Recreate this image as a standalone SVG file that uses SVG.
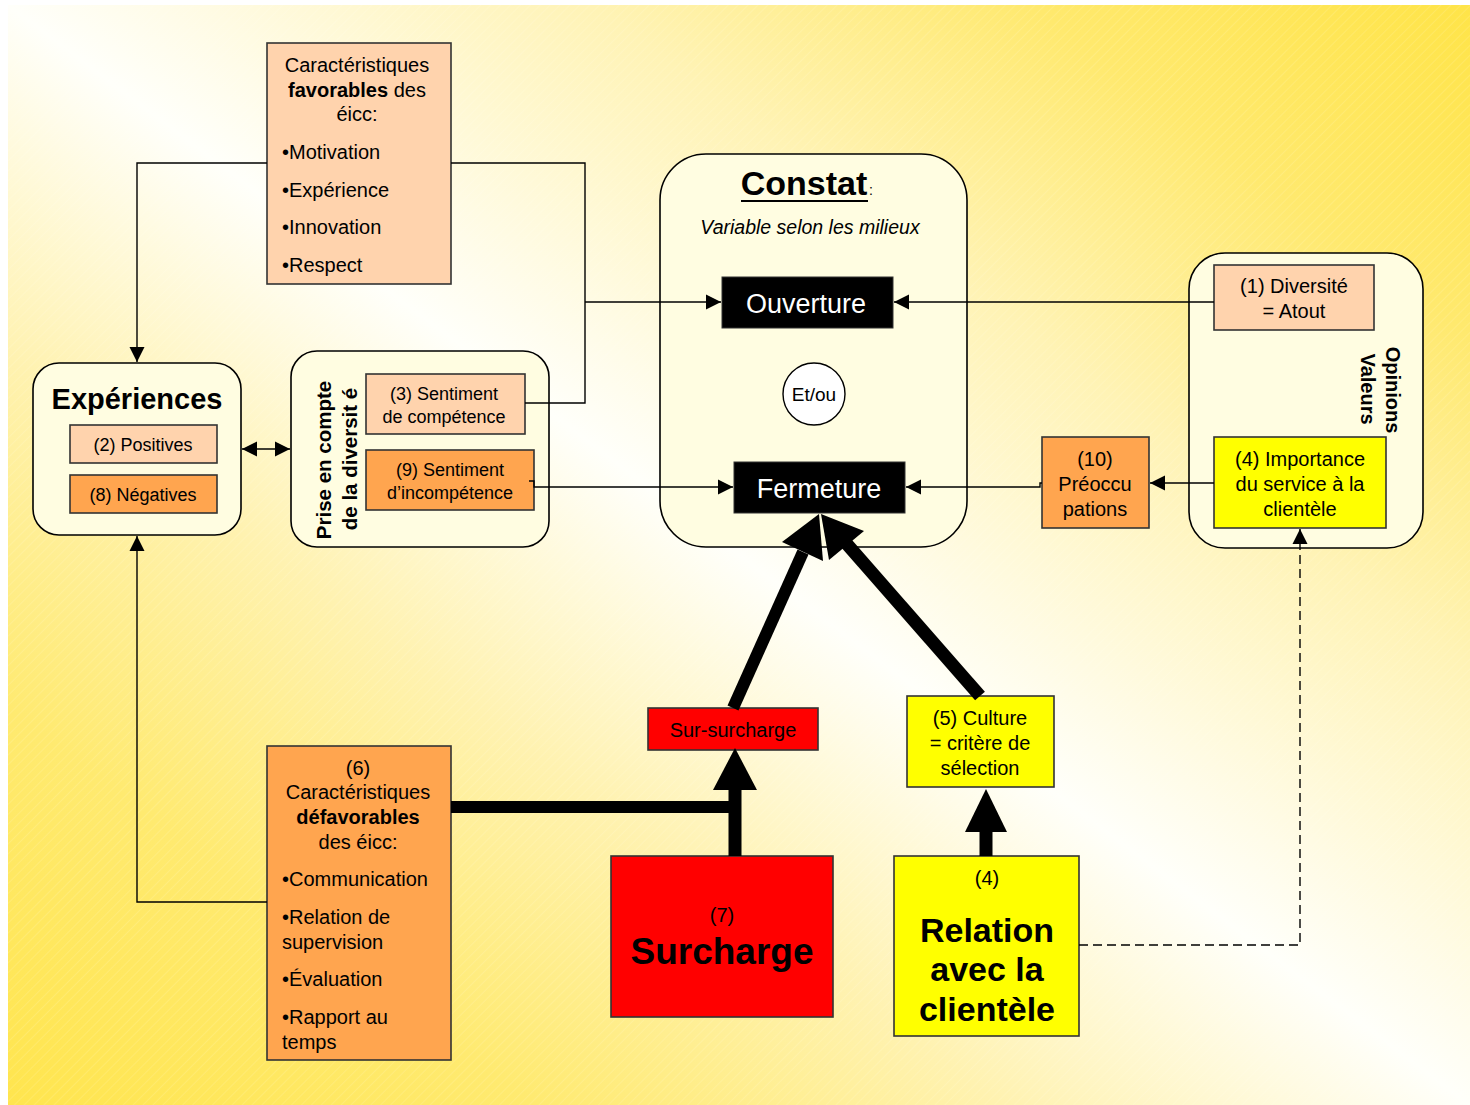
<svg xmlns="http://www.w3.org/2000/svg" width="1470" height="1105" viewBox="0 0 1470 1105">
<style>
text{font-family:"Liberation Sans",Arial,sans-serif;fill:#000;}
.t20{font-size:20px;}
.t18{font-size:18px;}
.c{text-anchor:middle;}
.b{font-weight:bold;}
.box{stroke:#333;stroke-width:1.6;}
.cont{fill:#FFFDE1;stroke:#000;stroke-width:1.6;}
.peach{fill:#FFD3AD;}
.orange{fill:#FFA54F;}
.yellow{fill:#FFFF00;}
.red{fill:#FF0000;}
.conn{fill:none;stroke:#000;stroke-width:1.4;}
.thick{fill:none;stroke:#000;}
.wt{fill:#fff;font-size:27px;text-anchor:middle;}
</style>
<defs>
<linearGradient id="bg" x1="1" y1="0" x2="0" y2="1">
<stop offset="0" stop-color="#FFE448"/>
<stop offset="0.15" stop-color="#FFE96E"/>
<stop offset="0.3" stop-color="#FFF3B5"/>
<stop offset="0.5" stop-color="#FFFFFA"/>
<stop offset="0.66" stop-color="#FFF2B0"/>
<stop offset="0.82" stop-color="#FFEA70"/>
<stop offset="1" stop-color="#FFE54E"/>
</linearGradient>
<pattern id="hatch" width="7" height="7" patternUnits="userSpaceOnUse" patternTransform="rotate(45)">
<line x1="0" y1="0" x2="0" y2="7" stroke="#fff" stroke-width="1" stroke-opacity="0.25"/>
</pattern>
<marker id="ah" viewBox="0 0 10 10" refX="10" refY="5" markerWidth="15" markerHeight="16" markerUnits="userSpaceOnUse" orient="auto-start-reverse">
<path d="M0,0 L10,5 L0,10 z" fill="#000"/>
</marker>
</defs>
<rect x="0" y="0" width="1470" height="1105" fill="#fff"/>
<rect x="8" y="5" width="1462" height="1100" fill="url(#bg)"/>
<rect x="8" y="5" width="1462" height="1100" fill="url(#hatch)"/>

<g id="favorables">
<rect class="box peach" x="267" y="43" width="184" height="241"/>
<text class="t20 c" x="357" y="72">Caractéristiques</text>
<text class="t20 c" x="357" y="97"><tspan class="b">favorables</tspan> des</text>
<text class="t20 c" x="357" y="121">éicc:</text>
<text class="t20" x="282" y="159">•Motivation</text>
<text class="t20" x="282" y="197">•Expérience</text>
<text class="t20" x="282" y="234">•Innovation</text>
<text class="t20" x="282" y="272">•Respect</text>
</g>

<g id="experiences">
<rect class="cont" x="33" y="363" width="208" height="172" rx="26"/>
<text class="c b" x="137" y="409" font-size="29">Expériences</text>
<rect class="box peach" x="70" y="425" width="147" height="38"/>
<text class="t18 c" x="143" y="451">(2) Positives</text>
<rect class="box orange" x="70" y="475" width="147" height="38"/>
<text class="t18 c" x="143" y="501">(8) Négatives</text>
</g>

<g id="prise">
<rect class="cont" x="291" y="351" width="258" height="196" rx="26"/>
<text class="b c" font-size="20.5" x="331" y="460" transform="rotate(-90 331 460)">Prise en compte</text>
<text class="b c" font-size="20.5" x="357" y="459" transform="rotate(-90 357 459)">de la diversit é</text>
<rect class="box peach" x="366" y="374" width="159" height="60"/>
<text class="t18 c" x="444" y="400">(3) Sentiment</text>
<text class="t18 c" x="444" y="423">de compétence</text>
<rect class="box orange" x="366" y="450" width="168" height="60"/>
<text class="t18 c" x="450" y="476">(9) Sentiment</text>
<text class="t18 c" x="450" y="499">d’incompétence</text>
</g>

<g id="constat">
<rect class="cont" x="660" y="154" width="307" height="393" rx="46"/>
<text class="b c" x="804" y="195" font-size="34">Constat</text>
<line x1="741" y1="201" x2="868" y2="201" stroke="#000" stroke-width="2"/>
<text x="869" y="195" font-size="14">:</text>
<text class="c" x="810" y="234" font-size="19.5" font-style="italic">Variable selon les milieux</text>
</g>

<g id="ouverture">
<rect x="722" y="277" width="171" height="51" fill="#000" stroke="#333" stroke-width="1"/>
<text class="wt" x="806" y="313">Ouverture</text>
</g>

<g id="etou">
<circle cx="814" cy="394" r="31" fill="#fff" stroke="#000" stroke-width="1.4"/>
<text class="c" x="814" y="401" font-size="19">Et/ou</text>
</g>

<g id="fermeture">
<rect x="734" y="462" width="171" height="51" fill="#000" stroke="#333" stroke-width="1"/>
<text class="wt" x="819" y="498">Fermeture</text>
</g>

<g id="opinions">
<rect class="cont" x="1189" y="253" width="234" height="295" rx="36"/>
<rect class="box peach" x="1214" y="265" width="160" height="65"/>
<text class="t20 c" x="1294" y="293">(1) Diversité</text>
<text class="t20 c" x="1294" y="318">= Atout</text>
<text class="b c" font-size="20" x="1386" y="390" transform="rotate(90 1386 390)">Opinions</text>
<text class="b c" font-size="20" x="1361" y="389" transform="rotate(90 1361 389)">Valeurs</text>
<rect class="box yellow" x="1214" y="437" width="172" height="91"/>
<text class="t20 c" x="1300" y="466">(4) Importance</text>
<text class="t20 c" x="1300" y="491">du service à la</text>
<text class="t20 c" x="1300" y="516">clientèle</text>
</g>

<g id="preoccupations">
<rect class="box orange" x="1042" y="437" width="107" height="91"/>
<text class="t20 c" x="1095" y="466">(10)</text>
<text class="t20 c" x="1095" y="491">Préoccu</text>
<text class="t20 c" x="1095" y="516">pations</text>
</g>

<g id="defavorables">
<rect class="box orange" x="267" y="746" width="184" height="314"/>
<text class="t20 c" x="358" y="775">(6)</text>
<text class="t20 c" x="358" y="799">Caractéristiques</text>
<text class="t20 c b" x="358" y="824">défavorables</text>
<text class="t20 c" x="358" y="849">des éicc:</text>
<text class="t20" x="282" y="886">•Communication</text>
<text class="t20" x="282" y="924">•Relation de</text>
<text class="t20" x="282" y="949">supervision</text>
<text class="t20" x="282" y="986">•Évaluation</text>
<text class="t20" x="282" y="1024">•Rapport au</text>
<text class="t20" x="282" y="1049">temps</text>
</g>

<g id="sursurcharge">
<rect class="box red" x="648" y="708" width="170" height="42"/>
<text class="t20 c" x="733" y="737">Sur-surcharge</text>
</g>

<g id="culture">
<rect class="box yellow" x="907" y="696" width="147" height="91"/>
<text class="t20 c" x="980" y="725">(5) Culture</text>
<text class="t20 c" x="980" y="750">= critère de</text>
<text class="t20 c" x="980" y="775">sélection</text>
</g>

<g id="surcharge">
<rect class="box red" x="611" y="856" width="222" height="161"/>
<text class="t20 c" x="722" y="922">(7)</text>
<text class="c b" x="722" y="964" font-size="37">Surcharge</text>
</g>

<g id="relation">
<rect class="box yellow" x="894" y="856" width="185" height="180"/>
<text class="t20 c" x="987" y="885">(4)</text>
<text class="c b" x="987" y="942" font-size="34">Relation</text>
<text class="c b" x="987" y="981" font-size="34">avec la</text>
<text class="c b" x="987" y="1021" font-size="34">clientèle</text>
</g>

<g id="connectors">
<path class="conn" d="M267,163 H137 V362" marker-end="url(#ah)"/>
<path class="conn" d="M451,163 H585 V403 H525"/>
<path class="conn" d="M585,302 H721" marker-end="url(#ah)"/>
<path class="conn" d="M1214,302 H894" marker-end="url(#ah)"/>
<path class="conn" d="M242,449 H290" marker-start="url(#ah)" marker-end="url(#ah)"/>
<path class="conn" d="M529,481 H534 V487 H733" marker-end="url(#ah)"/>
<path class="conn" d="M1214,483 H1150" marker-end="url(#ah)"/>
<path class="conn" d="M1042,483 H1040 V487 H906" marker-end="url(#ah)"/>
<path class="conn" d="M267,902 H137 V536" marker-end="url(#ah)"/>
<path class="conn" d="M1079,945 H1300 V529" stroke-dasharray="9,5" marker-end="url(#ah)"/>
<path class="thick" d="M451,807 H741" stroke-width="12"/>
<path class="thick" d="M735,856 V788" stroke-width="13"/>
<polygon points="735,748 713,790 757,790" fill="#000"/>
<path class="thick" d="M986,856 V830" stroke-width="13"/>
<polygon points="986,789 965,832 1007,832" fill="#000"/>
<path class="thick" d="M733,708 L803,552" stroke-width="12"/>
<polygon points="819,514 782,542 823,561" fill="#000"/>
<path class="thick" d="M980,696 L846,543" stroke-width="13"/>
<polygon points="821,514 829,560 864,531" fill="#000"/>
</g>
</svg>
